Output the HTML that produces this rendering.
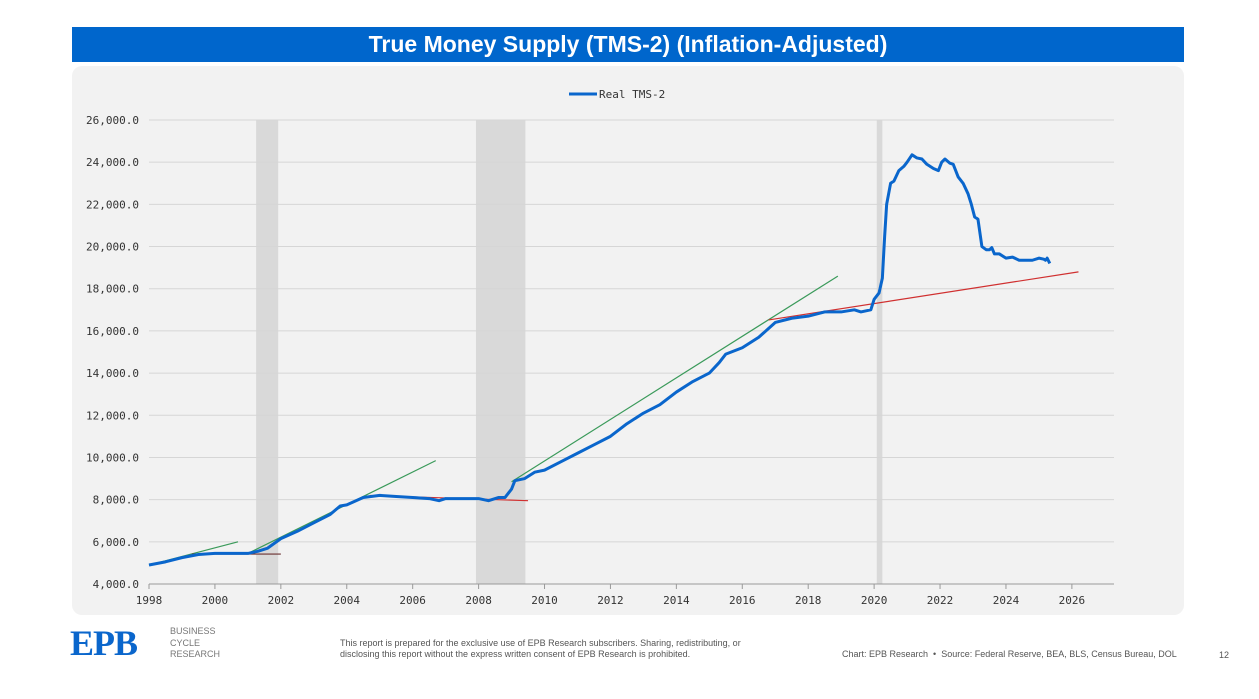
<!DOCTYPE html>
<html><head><meta charset="utf-8">
<style>
body{margin:0;width:1259px;height:699px;background:#fff;font-family:"Liberation Sans",sans-serif;position:relative;overflow:hidden}
#title{position:absolute;left:72px;top:27px;width:1112px;height:35px;background:#0066cc;color:#fff;font-weight:bold;font-size:23px;text-align:center;line-height:35px}
#panel{position:absolute;left:72px;top:66px;width:1112px;height:549px;background:#f2f2f2;border-radius:10px}
svg{position:absolute;left:0;top:0}
.ft{position:absolute;font-size:9px;color:#555;line-height:11px}
</style></head><body>
<div id="title">True Money Supply (TMS-2) (Inflation-Adjusted)</div>
<div id="panel"></div>
<svg id="chart" width="1259" height="699"></svg>
<div style="position:absolute;left:70px;top:626px;font-size:36px;font-weight:bold;color:#0a66cc;font-family:'Liberation Serif',serif;line-height:34px;letter-spacing:-1px">EPB</div>
<div class="ft" style="left:170px;top:626px;line-height:11.5px;color:#777">BUSINESS<br>CYCLE<br>RESEARCH</div>
<div class="ft" style="left:340px;top:638px">This report is prepared for the exclusive use of EPB Research subscribers. Sharing, redistributing, or<br>disclosing this report without the express written consent of EPB Research is prohibited.</div>
<div class="ft" style="left:842px;top:649px">Chart: EPB Research &nbsp;•&nbsp; Source: Federal Reserve, BEA, BLS, Census Bureau, DOL</div>
<div class="ft" style="left:1219px;top:650px">12</div>
<script>
const yTicks=[4000,6000,8000,10000,12000,14000,16000,18000,20000,22000,24000,26000];
const xTicks=[1998,2000,2002,2004,2006,2008,2010,2012,2014,2016,2018,2020,2022,2024,2026];
const recessions=[[2001.25,2001.92],[2007.92,2009.42],[2020.08,2020.25]];
const years=[1998.0,1998.5,1999.0,1999.5,2000.0,2000.5,2001.0,2001.3,2001.6,2002.0,2002.5,2003.0,2003.5,2003.8,2004.0,2004.5,2005.0,2005.5,2006.0,2006.5,2006.8,2007.0,2007.5,2008.0,2008.3,2008.6,2008.8,2009.0,2009.1,2009.4,2009.7,2010.0,2010.5,2011.0,2011.5,2012.0,2012.5,2013.0,2013.5,2014.0,2014.5,2015.0,2015.3,2015.5,2016.0,2016.5,2017.0,2017.5,2018.0,2018.5,2019.0,2019.4,2019.6,2019.9,2020.0,2020.15,2020.25,2020.32,2020.38,2020.5,2020.6,2020.75,2020.9,2021.0,2021.15,2021.3,2021.45,2021.6,2021.8,2021.95,2022.05,2022.15,2022.3,2022.4,2022.55,2022.7,2022.85,2022.95,2023.05,2023.15,2023.27,2023.4,2023.5,2023.57,2023.65,2023.8,2024.0,2024.2,2024.4,2024.8,2025.0,2025.15,2025.2,2025.25,2025.33];
const tms2=[4900,5050,5250,5400,5450,5450,5450,5550,5700,6150,6500,6900,7300,7700,7750,8100,8200,8150,8100,8050,7950,8050,8050,8050,7950,8100,8100,8500,8900,9000,9300,9400,9800,10200,10600,11000,11600,12100,12500,13100,13600,14000,14500,14900,15200,15700,16400,16600,16700,16900,16900,17000,16900,17000,17500,17800,18500,20500,22000,23000,23100,23600,23800,24000,24350,24200,24150,23900,23700,23600,24000,24150,23950,23900,23300,23000,22500,22000,21400,21300,20000,19850,19850,19950,19650,19650,19450,19500,19350,19350,19450,19400,19350,19450,19200];
const greenTrends=[[[1998.0,4900],[2000.7,6000]],[[2001.0,5450],[2006.7,9850]],[[2009.0,8850],[2018.9,18600]]];
const redTrends=[[[1999.3,5420],[2002.0,5420]],[[2004.7,8200],[2009.5,7950]],[[2016.8,16520],[2026.2,18800]]];
const svg=document.getElementById('chart');const NS='http://www.w3.org/2000/svg';
const X=y=>149+(y-1998)*32.96, Y=v=>584-(v-4000)*(464/22000);
function mk(t,a,p){const e=document.createElementNS(NS,t);for(const k in a)e.setAttribute(k,a[k]);(p||svg).appendChild(e);return e;}
recessions.forEach(r=>{const e=mk('rect',{x:X(r[0]),y:120,width:X(r[1])-X(r[0]),height:464,fill:'#d9d9d9'});

});
yTicks.forEach(v=>{const l=mk('line',{x1:149,x2:1114,y1:Y(v),y2:Y(v),stroke:v==4000?'#999':'#d6d6d6','stroke-width':1});


const t=mk('text',{x:139,y:Y(v)+4,'text-anchor':'end','font-size':11,fill:'#333','font-family':'DejaVu Sans Mono, Liberation Mono, monospace'});t.textContent=v.toLocaleString('en-US')+'.0';

});
xTicks.forEach(y=>{const l=mk('line',{x1:X(y),x2:X(y),y1:584,y2:589,stroke:'#999'});


const t=mk('text',{x:X(y),y:604,'text-anchor':'middle','font-size':11,fill:'#333','font-family':'DejaVu Sans Mono, Liberation Mono, monospace'});t.textContent=y;

});
function seg(s,c,name){const l=mk('line',{x1:X(s[0][0]),y1:Y(s[0][1]),x2:X(s[1][0]),y2:Y(s[1][1]),stroke:c,'stroke-width':1.2});

}
greenTrends.forEach(s=>seg(s,'#3a9a5a','growth-trendline'));
redTrends.forEach((s,i)=>seg(s,i==0?'#6a3030':'#d03030','flat-trendline'));
const p=mk('polyline',{points:years.map((y,i)=>X(y)+','+Y(tms2[i])).join(' '),fill:'none',stroke:'#0a66cc','stroke-width':3,'stroke-linejoin':'round'});


const g=mk('g',{});


mk('line',{x1:569,x2:597,y1:94,y2:94,stroke:'#0a66cc','stroke-width':3},g);
const lt=mk('text',{x:599,y:98,'font-size':11,fill:'#333','font-family':'DejaVu Sans Mono, Liberation Mono, monospace'},g);lt.textContent='Real TMS-2';
</script>
</body></html>
